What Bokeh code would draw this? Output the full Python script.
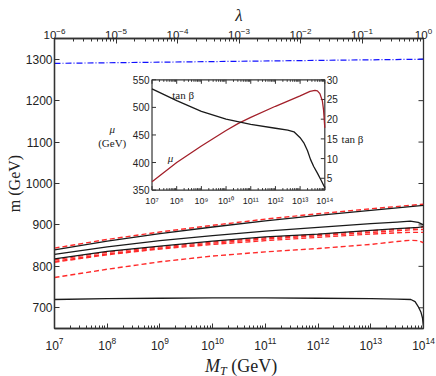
from bokeh.plotting import figure
from bokeh.layouts import column
from bokeh.models import Range1d, LogScale, LogAxis, FixedTicker, Label, Div
from bokeh.embed import file_html
from bokeh.resources import INLINE
from bokeh.core.properties import value

# ---------------- data ----------------
# main panel: log10(M_T / GeV) sample points and masses m (GeV)
blue_logMT = [7, 10.5, 14]
blue_m = [1290, 1295, 1300]

top_logMT = [7, 8, 9, 10, 11, 12, 13, 14]
black1_m = [840, 861, 879, 895, 910, 923, 935, 947]
red1_m = [844, 865, 883, 899, 914, 927, 939, 950]

mid_logMT = [7, 8, 9, 10, 11, 12, 13, 13.5, 13.75, 13.9, 14]
black2_m = [829, 847, 862, 874, 885, 894, 903, 907, 909, 906, 900]
black3_m = [818, 836, 849, 861, 871, 878, 887, 891, 893, 894, 896]
red2_m = [816, 834, 847, 859, 869, 877, 886, 890, 892, 894, 895]
red3_m = [812, 830, 844, 856, 866, 874, 882, 886, 888, 889, 889]
red4_m = [810, 828, 842, 853, 862, 870, 878, 881, 882, 882, 882]
red5_m = [773, 793, 811, 825, 835, 843, 853, 860, 863, 862, 857]

low_logMT = [7, 8, 9, 10, 11, 12, 13, 13.5, 13.76, 13.84, 13.9, 13.95, 13.98, 14]
black4_m = [720, 722, 723, 724, 724, 723, 722, 721, 720, 715, 703, 690, 676, 654]

# inset: mu (GeV) and tan(beta) vs log10(M_T / GeV)
mu_logMT = [7, 8, 9, 10, 10.5, 11, 12, 13, 13.4, 13.6, 13.7, 13.8, 13.9, 13.95, 14]
mu_val = [365, 400, 430, 458, 471, 482, 502, 521, 529, 531, 530, 525, 512, 495, 463]
tb_logMT = [7, 8, 9, 10, 11, 12, 12.5, 12.75, 13, 13.15, 13.3, 13.42, 13.55, 13.7, 13.85, 14]
tb_val = [27.7, 24.7, 22.0, 20.0, 18.7, 17.7, 17.2, 16.8, 15.3, 14.0, 12.0, 9.8, 8.0, 6.3, 4.5, 2.6]

# ticks
main_x_exps = [7, 8, 9, 10, 11, 12, 13, 14]
lam_exps = [-6, -5, -4, -3, -2, -1, 0]
main_y_ticks = [700, 800, 900, 1000, 1100, 1200, 1300]
inset_x_exps = [7, 8, 9, 10, 11, 12, 13, 14]
inset_mu_ticks = [350, 400, 450, 500, 550]
inset_tb_ticks = [5, 10, 15, 20, 25, 30]

# ---------------- helpers ----------------
def pw(lst):
    return [10.0 ** v for v in lst]

def minors(exps):
    out = []
    for k in exps[:-1]:
        for m in range(2, 10):
            out.append(m * 10.0 ** k)
    return out

SUP = str.maketrans("0123456789-", "⁰¹²³⁴⁵⁶⁷⁸⁹⁻")

AX = "#333333"
BLACK = "#1a1a1a"
RED = "#ff2a2a"
TXT = "#222222"
SANS = "Liberation Sans"
SERIF = "Liberation Serif"

MB_L, MB_R, MB_T, MB_B = 54, 13, 38, 27
FRAME_W, FRAME_H = 369, 290
MAIN_H = MB_T + FRAME_H + MB_B
BOT_H = 376 - MAIN_H
W_ALL = MB_L + FRAME_W + MB_R

# ---------------- main figure ----------------
p = figure(width=W_ALL, height=MAIN_H, x_axis_type="log",
           x_range=Range1d(1e7, 1e14), y_range=Range1d(650, 1350),
           output_backend="svg", toolbar_location=None,
           min_border_left=MB_L, min_border_right=MB_R, min_border_top=MB_T, min_border_bottom=MB_B)
p.xgrid.visible = False
p.ygrid.visible = False
p.outline_line_color = AX
p.outline_line_width = 1.3
p.background_fill_color = "white"
p.border_fill_color = "white"

def style(ax, size="12px"):
    ax.major_tick_in = 5
    ax.major_tick_out = 0
    ax.minor_tick_in = 3
    ax.minor_tick_out = 0
    ax.axis_line_color = AX
    ax.axis_line_width = 1.3
    ax.major_tick_line_color = AX
    ax.minor_tick_line_color = AX
    ax.major_label_text_font = SANS
    ax.major_label_text_font_size = size
    ax.major_label_text_color = TXT
    ax.axis_label_text_font = SERIF
    ax.axis_label_text_color = TXT
    ax.axis_label_text_font_style = "normal"

xb = p.xaxis[0]
xb.ticker = FixedTicker(ticks=pw(main_x_exps), minor_ticks=minors(main_x_exps))
style(xb)
xb.major_label_standoff = 8

yl = p.yaxis[0]
yl.ticker = FixedTicker(ticks=main_y_ticks, minor_ticks=[])
style(yl)
yl.major_label_standoff = 2
yl.axis_label = "m (GeV)"
yl.axis_label_text_font_size = "16px"
yl.axis_label_standoff = 0

p.extra_x_ranges = {"lam": Range1d(1e-6, 1.0), "ix": Range1d(10 ** 3.050, 10 ** 17.998)}
p.extra_x_scales = {"lam": LogScale(), "ix": LogScale()}
p.extra_y_ranges = {"imu": Range1d(99.05, 624.9), "itb": Range1d(-33.13, 40.48)}

xt = LogAxis(x_range_name="lam", ticker=FixedTicker(ticks=pw(lam_exps), minor_ticks=minors(lam_exps)))
style(xt, size="11.5px")
xt.major_label_standoff = 0
xt.axis_label = "λ"
xt.axis_label_text_font_size = "17px"
xt.axis_label_text_font_style = "italic"
xt.axis_label_standoff = 0
p.add_layout(xt, "above")

# right-hand mirror ticks (inward, no labels)
rdx = 10 ** (5 / 52.7)
p.segment(x0=[1e14] * len(main_y_ticks), x1=[1e14 / rdx] * len(main_y_ticks),
          y0=main_y_ticks, y1=main_y_ticks, line_color=AX, line_width=1)

# ---------------- main curves ----------------
p.line(pw(blue_logMT), blue_m, line_color="#1010ff", line_width=1.2, line_dash="6 2 1 2")
p.line(pw(top_logMT), red1_m, line_color=RED, line_width=1.4, line_dash="5 3")
p.line(pw(top_logMT), black1_m, line_color=BLACK, line_width=1.3)
for ys in (red2_m, red3_m, red4_m, red5_m):
    p.line(pw(mid_logMT), ys, line_color=RED, line_width=1.4, line_dash="5 3")
for ys in (black2_m, black3_m):
    p.line(pw(mid_logMT), ys, line_color=BLACK, line_width=1.3)
p.line(pw(low_logMT), black4_m, line_color=BLACK, line_width=1.3)

# ---------------- inset ----------------
IX = dict(x_range_name="ix", y_range_name="imu")
IT = dict(x_range_name="ix", y_range_name="itb")
p.quad(left=[1e7], right=[1e14], bottom=[350], top=[550], fill_color="white",
       line_color=AX, line_width=1.2, **IX)

maj_len_mu = 4 / 0.5515
min_len_mu = 2 / 0.5515
xs = pw(inset_x_exps)
p.segment(x0=xs, x1=xs, y0=[350] * len(xs), y1=[350 + maj_len_mu] * len(xs), line_color=AX, **IX)
p.segment(x0=xs, x1=xs, y0=[550] * len(xs), y1=[550 - maj_len_mu] * len(xs), line_color=AX, **IX)
mn = minors(inset_x_exps)
p.segment(x0=mn, x1=mn, y0=[350] * len(mn), y1=[350 + min_len_mu] * len(mn), line_color=AX, **IX)
p.segment(x0=mn, x1=mn, y0=[550] * len(mn), y1=[550 - min_len_mu] * len(mn), line_color=AX, **IX)
dx = 10 ** (4 / 24.686)
p.segment(x0=[1e7] * len(inset_mu_ticks), x1=[1e7 * dx] * len(inset_mu_ticks),
          y0=inset_mu_ticks, y1=inset_mu_ticks, line_color=AX, **IX)
p.segment(x0=[1e14] * len(inset_tb_ticks), x1=[1e14 / dx] * len(inset_tb_ticks),
          y0=inset_tb_ticks, y1=inset_tb_ticks, line_color=AX, **IT)

p.text(x=[1e7 / 10 ** (2.5 / 24.686)] * len(inset_mu_ticks), y=inset_mu_ticks,
       text=[str(v) for v in inset_mu_ticks],
       text_font=value(SANS), text_font_size="10px", text_align="right", text_baseline="middle",
       text_color=TXT, **IX)
p.text(x=[1e14 * 10 ** (2 / 24.686)] * len(inset_tb_ticks), y=inset_tb_ticks,
       text=[str(v) for v in inset_tb_ticks],
       text_font=value(SANS), text_font_size="10px", text_align="left", text_baseline="middle",
       text_color=TXT, **IT)
p.text(x=xs, y=[330.6] * len(xs), text=["10" + str(e).translate(SUP) for e in inset_x_exps],
       text_font=value(SANS), text_font_size="9px", text_align="center", text_baseline="alphabetic",
       text_color=TXT, **IX)

p.line(pw(mu_logMT), mu_val, line_color="#a3202a", line_width=1.3, **IX)
p.line(pw(tb_logMT), tb_val, line_color=BLACK, line_width=1.3, **IT)

def lab(text, x, y, size, align="left", base="alphabetic", style="normal"):
    p.add_layout(Label(x=x, y=y, text=text, text_font=SERIF, text_font_size=size,
                       text_font_style=style, text_align=align, text_baseline=base,
                       text_color=TXT, x_range_name="ix", y_range_name="imu"))

lab("tan β", 10 ** 7.82, 522.8, "11px", base="middle")
lab("μ", 10 ** 7.75, 408.6, "11px", align="center", base="middle", style="italic")
lab("μ", 10 ** 5.388, 461, "11px", align="center", base="middle", style="italic")
lab("(GeV)", 10 ** 5.388, 435.8, "11px", align="center", base="middle")
lab("tan β", 10 ** 14.68, 443, "11px", base="middle")

# ---------------- bottom axis title (italic M with subscript T) ----------------
bot = Div(width=W_ALL, height=BOT_H,
          text=('<div style="padding-left:200px;height:%dpx;font-family:\'Liberation Serif\';'
                'font-size:18px;line-height:13px;color:#222222;white-space:nowrap;">'
                '<i>M</i><span style="position:relative;top:3px;font-size:12px;font-style:italic;'
                'line-height:12px;">T</span>&nbsp;(GeV)</div>') % BOT_H)

layout = column(p, bot, spacing=0)

open("out.html", "w").write(file_html(layout, INLINE))
